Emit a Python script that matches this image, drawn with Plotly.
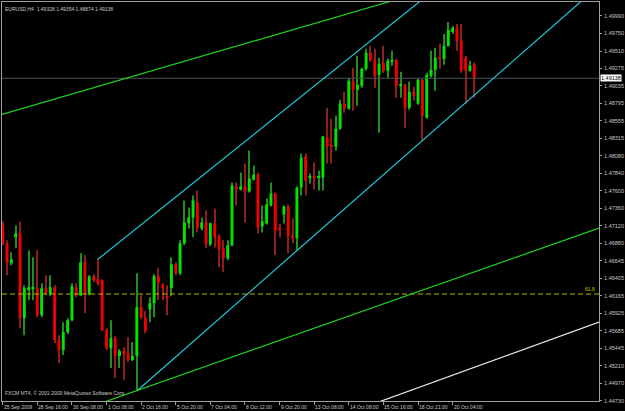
import plotly.graph_objects as go

# ---------------- data (EURUSD H4) ----------------
bars = list(range(110))
opens = [1.47141, 1.46882, 1.46609, 1.46964, 1.47018, 1.45860, 1.46255, 1.46269, 1.46269, 1.45901,
         1.46269, 1.46187, 1.46282, 1.45560, 1.45424, 1.45669, 1.45832, 1.46282, 1.46173, 1.46623,
         1.46187, 1.46432, 1.46391, 1.46378, 1.45696, 1.45451, 1.45587, 1.45342, 1.45410, 1.45383,
         1.45287, 1.45342, 1.46010, 1.45873, 1.45982, 1.46064, 1.46432, 1.46323, 1.46160, 1.46269,
         1.46596, 1.46473, 1.46882, 1.47155, 1.47236, 1.47441, 1.47086, 1.47168, 1.46868, 1.47155,
         1.46977, 1.46814, 1.46678, 1.46855, 1.47659, 1.47618, 1.47659, 1.47591, 1.47754, 1.47822,
         1.47114, 1.47155, 1.47400, 1.47563, 1.47086, 1.47277, 1.47386, 1.46991, 1.46950, 1.47645,
         1.48068, 1.47782, 1.47795, 1.47782, 1.47782, 1.48327, 1.48218, 1.48204, 1.48449, 1.48790,
         1.48722, 1.49090, 1.48981, 1.49035, 1.49267, 1.49485, 1.49390, 1.49185, 1.49349, 1.49240,
         1.49363, 1.49390, 1.49035, 1.49049, 1.48736, 1.48954, 1.48790, 1.49117, 1.48599, 1.49172,
         1.49254, 1.49417, 1.49403, 1.49581, 1.49771, 1.49826, 1.49649, 1.49417, 1.49240, 1.49328]
highs = [1.47182, 1.46923, 1.46759, 1.47127, 1.47182, 1.46309, 1.46787, 1.46691, 1.46787, 1.46337,
         1.46446, 1.46446, 1.46309, 1.45628, 1.45805, 1.45860, 1.46337, 1.46337, 1.46746, 1.46718,
         1.46446, 1.46459, 1.46664, 1.46391, 1.45723, 1.45832, 1.45614, 1.45437, 1.45464, 1.45601,
         1.45533, 1.46473, 1.46173, 1.45955, 1.46146, 1.46459, 1.46541, 1.46337, 1.46309, 1.46691,
         1.46623, 1.46923, 1.47468, 1.47373, 1.47536, 1.47604, 1.47236, 1.47332, 1.47168, 1.47359,
         1.47005, 1.46923, 1.46923, 1.47713, 1.47713, 1.47850, 1.47972, 1.48150, 1.47945, 1.47850,
         1.47400, 1.47495, 1.47713, 1.47577, 1.47155, 1.47400, 1.47414, 1.47223, 1.47659, 1.48109,
         1.48109, 1.47836, 1.47986, 1.47877, 1.48354, 1.48736, 1.48586, 1.48627, 1.48845, 1.48954,
         1.49145, 1.49281, 1.49444, 1.49281, 1.49540, 1.49581, 1.49540, 1.49417, 1.49581, 1.49403,
         1.49513, 1.49403, 1.49226, 1.49063, 1.49090, 1.49022, 1.49131, 1.49131, 1.49213, 1.49513,
         1.49553, 1.49608, 1.49744, 1.49908, 1.49853, 1.49881, 1.49881, 1.49444, 1.49376, 1.49354]
lows = [1.46855, 1.46446, 1.46582, 1.46814, 1.45723, 1.45628, 1.46105, 1.46105, 1.45873, 1.45873,
        1.46173, 1.46160, 1.45519, 1.45246, 1.45355, 1.45642, 1.45819, 1.46146, 1.46160, 1.45928,
        1.46173, 1.46350, 1.46309, 1.45683, 1.45424, 1.45178, 1.45042, 1.45178, 1.45015, 1.45260,
        1.45274, 1.44865, 1.45846, 1.45655, 1.45805, 1.45873, 1.46105, 1.46105, 1.45901, 1.46160,
        1.46446, 1.46446, 1.46855, 1.47086, 1.46964, 1.47032, 1.47059, 1.46814, 1.46841, 1.46827,
        1.46555, 1.46487, 1.46650, 1.46841, 1.47400, 1.47604, 1.47168, 1.47577, 1.47741, 1.47018,
        1.47032, 1.47141, 1.47386, 1.46718, 1.46964, 1.47155, 1.46746, 1.46882, 1.46787, 1.47536,
        1.47536, 1.47700, 1.47618, 1.47604, 1.47604, 1.47972, 1.47972, 1.48150, 1.48436, 1.48667,
        1.48708, 1.48695, 1.48763, 1.49008, 1.49240, 1.49363, 1.49008, 1.48395, 1.49213, 1.49145,
        1.49308, 1.48872, 1.48872, 1.48463, 1.48708, 1.48831, 1.48777, 1.48286, 1.48586, 1.49145,
        1.48967, 1.49267, 1.49322, 1.49567, 1.49744, 1.49513, 1.49213, 1.48790, 1.49226, 1.48874]
closes = [1.46896, 1.46623, 1.46664, 1.47018, 1.45860, 1.46269, 1.46282, 1.46282, 1.45901, 1.46269,
          1.46200, 1.46282, 1.45560, 1.45424, 1.45669, 1.45832, 1.46296, 1.46173, 1.46623, 1.46187,
          1.46432, 1.46378, 1.46337, 1.45696, 1.45451, 1.45587, 1.45342, 1.45410, 1.45383, 1.45287,
          1.45342, 1.46010, 1.45873, 1.45683, 1.46064, 1.46432, 1.46337, 1.46269, 1.46146, 1.46596,
          1.46473, 1.46882, 1.47168, 1.47236, 1.47468, 1.47086, 1.47168, 1.46868, 1.47155, 1.46964,
          1.46800, 1.46678, 1.46855, 1.47672, 1.47618, 1.47659, 1.47591, 1.47768, 1.47822, 1.47100,
          1.47182, 1.47414, 1.47563, 1.47059, 1.47073, 1.47386, 1.46991, 1.46950, 1.47645, 1.48054,
          1.47741, 1.47795, 1.47782, 1.47795, 1.48340, 1.48204, 1.48204, 1.48449, 1.48790, 1.48722,
          1.49104, 1.48981, 1.49049, 1.49267, 1.49485, 1.49390, 1.49172, 1.49335, 1.49240, 1.49376,
          1.49390, 1.49035, 1.49049, 1.48736, 1.48954, 1.48899, 1.49117, 1.48627, 1.49185, 1.49254,
          1.49417, 1.49403, 1.49581, 1.49799, 1.49826, 1.49649, 1.49240, 1.49240, 1.49308, 1.49138]

price_ticks = [1.49990, 1.49750, 1.49510, 1.49275, 1.49035, 1.48795, 1.48555, 1.48315, 1.48080,
               1.47840, 1.47600, 1.47360, 1.47120, 1.46880, 1.46645, 1.46405, 1.46165, 1.45925,
               1.45685, 1.45445, 1.45210, 1.44970, 1.44730]
date_bars = [0, 8, 16, 24, 32, 40, 48, 56, 64, 72, 80, 88, 96, 104]
date_labels = ["25 Sep 2009", "28 Sep 16:00", "30 Sep 08:00", "1 Oct 08:00", "2 Oct 16:00",
               "5 Oct 20:00", "7 Oct 04:00", "8 Oct 12:00", "9 Oct 20:00", "13 Oct 08:00",
               "14 Oct 08:00", "15 Oct 16:00", "18 Oct 21:00", "20 Oct 04:00"]

# drawn objects: anchor (bar, price) pairs
green_top_bars, green_top_prices = [0, 87], [1.48647, 1.50144]
cyan_up_bars, cyan_up_prices = [22, 96], [1.46664, 1.50168]
cyan_lo_bars, cyan_lo_prices = [31, 97], [1.44865, 1.48286]
green_lo_bars, green_lo_prices = [36.2, 137.8], [1.44978, 1.47090]
white_bars, white_prices = [88.85, 138.0], [1.44756, 1.45809]
fib_618 = 1.46190
symbol_title = "EURUSD,H4  1.49328 1.49354 1.48874 1.49138"
copyright_text = "FXCM MT4, \u00a9 2001-2009 MetaQuotes Software Corp."

# ---------------- figure ----------------
X_MIN, X_MAX = -0.16, 137.83
Y_MIN, Y_MAX = 1.44728, 1.50180
TXT = "#c8c8c8"
FRAME = "#a0a0a0"

bull = [c >= o for o, c in zip(opens, closes)]
wick_col = ["#1f8f1f" if b else "#8f1f1f" for b in bull]
body_col = ["#00e400" if b else "#ee0000" for b in bull]
MIN_BODY = 0.00008
body_base = [min(o, c) for o, c in zip(opens, closes)]
body_h = [max(abs(c - o), MIN_BODY) for o, c in zip(opens, closes)]

fig = go.Figure()


def ray(bx, py, start=None, end=X_MAX):
    s = bx[0] if start is None else start
    k = (py[1] - py[0]) / (bx[1] - bx[0])
    return [s, end], [py[0] + k * (s - bx[0]), py[0] + k * (end - bx[0])]


# horizontal levels
fig.add_trace(go.Scatter(x=[X_MIN, X_MAX], y=[closes[-1]] * 2, mode="lines",
                         line=dict(color="#4a5058", width=1), hoverinfo="skip"))
fig.add_trace(go.Scatter(x=[X_MIN, X_MAX], y=[fib_618] * 2, mode="lines",
                         line=dict(color="#b4b400", width=1, dash="5px,3px"), hoverinfo="skip"))

# candles
fig.add_trace(go.Bar(x=bars, y=[h - l for h, l in zip(highs, lows)], base=lows, width=0.24,
                     marker=dict(color=wick_col, line=dict(width=0)), hoverinfo="skip"))
fig.add_trace(go.Bar(x=bars, y=body_h, base=body_base, width=0.68,
                     marker=dict(color=body_col, line=dict(width=0)), hoverinfo="skip"))

# trend lines
for bx, py, col, st in [
    (green_top_bars, green_top_prices, "#22d022", X_MIN),
    (cyan_up_bars, cyan_up_prices, "#22c8d8", None),
    (cyan_lo_bars, cyan_lo_prices, "#22c8d8", None),
    (green_lo_bars, green_lo_prices, "#22d022", X_MIN),
    (white_bars, white_prices, "#e8e8e8", X_MIN),
]:
    xs, ys = ray(bx, py, st)
    fig.add_trace(go.Scatter(x=xs, y=ys, mode="lines", line=dict(color=col, width=1.2),
                             hoverinfo="skip"))

ann = []
for b, t in zip(date_bars, date_labels):
    ann.append(dict(x=b, y=0, xref="x", yref="paper", text=t, showarrow=False,
                    xanchor="left", yanchor="top", xshift=-1, yshift=-1,
                    font=dict(size=5, color=TXT)))
ann.append(dict(x=0, y=1, xref="paper", yref="paper", text=symbol_title, showarrow=False,
                xanchor="left", yanchor="top", xshift=1, yshift=-2, font=dict(size=5, color=TXT)))
ann.append(dict(x=0, y=0, xref="paper", yref="paper", text=copyright_text, showarrow=False,
                xanchor="left", yanchor="bottom", xshift=1, yshift=3, font=dict(size=5, color=TXT)))
ann.append(dict(x=1, y=closes[-1], xref="paper", yref="y", text="%.5f" % closes[-1],
                showarrow=False, xanchor="left", yanchor="middle", xshift=1, bgcolor="#ffffff",
                borderpad=0, font=dict(size=5.5, color="#000000")))
ann.append(dict(x=1, y=fib_618, xref="paper", yref="y", text="61.8", showarrow=False,
                xanchor="right", yanchor="bottom", xshift=-2, yshift=0,
                font=dict(size=5, color="#c8c800")))

fig.update_layout(
    width=625, height=411,
    margin=dict(l=1, r=21, t=1, b=10),
    paper_bgcolor="#000000", plot_bgcolor="#000000",
    showlegend=False, barmode="overlay", hovermode=False,
    font=dict(family="Liberation Sans, Arial, sans-serif", size=5, color=TXT),
    annotations=ann,
    xaxis=dict(range=[X_MIN, X_MAX], showgrid=False, zeroline=False, showline=True,
               linecolor=FRAME, linewidth=1, mirror=True, ticks="outside", ticklen=3,
               tickcolor=FRAME, tickvals=date_bars, showticklabels=False, fixedrange=True),
    yaxis=dict(range=[Y_MIN, Y_MAX], side="right", showgrid=False, zeroline=False,
               showline=True, linecolor=FRAME, linewidth=1, mirror=True, ticks="outside",
               ticklen=2, tickcolor=FRAME, tickvals=price_ticks,
               ticktext=["%.5f" % p for p in price_ticks], ticklabelstandoff=1,
               tickfont=dict(size=5.5, color=TXT), fixedrange=True),
)

fig.write_html("out.html")
